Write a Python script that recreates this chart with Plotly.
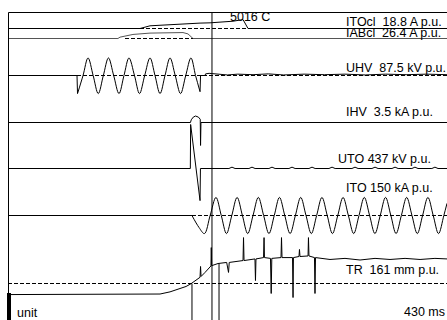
import plotly.graph_objects as go

# ---------------- scale constants ----------------
T_END = 430.0            # ms shown across the record
UNIT_PX = 27.0           # screen height of 1 p.u. (the "unit" bar)
W, H = 447, 320
PX_PER_MS = (W - 8) / T_END
T0 = -8 / PX_PER_MS      # left edge of the window in ms

# ---------------- channel data (time in ms, value in p.u.) ----------------
ITOCL_T = [0, 129.3, 139.1, 155.4, 171.4, 188.1, 197.9, 207.7, 220.4, 230.2, 233.8, 235.1, 430]
ITOCL_V = [0, 0, 0.10, 0.14, 0.16, 0.20, 0.21, 0.23, 0.27, 0.33, 0.05, 0, 0]

IABCL_T = [0, 107.7, 109.7, 122.4, 139.1, 155.4, 171.4, 176.3, 180.0, 181.2, 430]
IABCL_V = [0, 0, 0.05, 0.15, 0.20, 0.22, 0.22, 0.17, 0.03, 0, 0]

UHV_PRE_T = [0, 67.6, 68.1]
UHV_PRE_V = [0, 0, -0.67]
UHV_WAVE_T = [68.1, 73.5, 78.4, 83.4, 88.4, 93.4, 98.4, 103.5, 108.7, 113.6, 118.5,
              123.9, 128.8, 133.9, 139.1, 144.0, 148.9, 153.8, 158.7, 163.8, 169.0,
              174.1, 179.2, 183.7, 188.1]
UHV_WAVE_V = [-0.67, 0, 0.65, 0, -0.67, 0, 0.65, 0, -0.67, 0, 0.65,
              0, -0.67, 0, 0.65, 0, -0.67, 0, 0.65, 0, -0.67,
              0, 0.65, 0, -0.60]
UHV_POST_T = [188.1, 188.6, 193.0, 193.5, 197.0, 205, 215, 225, 240, 255, 270, 290,
              310, 330, 350, 370, 390, 410, 430]
UHV_POST_V = [-0.60, 0, 0, 0.06, 0.08, 0.05, 0.02, 0.05, 0.03, 0.06, 0.02, 0.05,
              0.03, 0.05, 0.02, 0.05, 0.03, 0.05, 0.03]

IHV_T = [0, 178.7, 179.5, 181.5, 183.7, 186.5, 188.3, 188.6, 189.0, 430]
IHV_V = [0, 0, 0.10, 0.20, 0.24, 0.20, 0.12, -0.85, 0, 0]

UTO_T = [0, 178.6, 178.9, 188.1, 188.5, 216.4, 219.4, 222.4, 236.0, 239.0, 242.0,
         255.6, 258.6, 261.6, 275.2, 278.2, 281.2, 294.8, 297.8, 300.8, 314.4,
         317.4, 320.4, 336.9, 339.9, 342.9, 356.5, 359.5, 362.5, 376.1, 379.1,
         382.1, 395.6, 398.6, 401.6, 415.2, 418.2, 421.2, 430]
UTO_V = [0, 0, 1.63, -1.19, 0, 0, 0.05, 0, 0, 0.05, 0,
         0, 0.05, 0, 0, 0.05, 0, 0, 0.05, 0, 0,
         0.05, 0, 0, 0.05, 0, 0, 0.05, 0, 0, 0.05,
         0, 0, 0.05, 0, 0, 0.05, 0, 0]

ITO_PRE_T = [0, 180.2]
ITO_PRE_V = [0, 0]
ITO_WAVE_T = [180.2, 187.2, 192.4, 198.0, 203.7, 208.9, 214.0, 219.2, 224.4, 229.6,
              234.8, 240.0, 245.2, 250.4, 255.6, 260.8, 265.9, 271.1, 276.3, 281.5,
              286.7, 291.9, 297.1, 302.3, 307.5, 312.7, 317.8, 323.0, 328.2, 333.4,
              338.6, 343.8, 349.0, 354.2, 359.4, 364.6, 369.8, 375.0, 380.1, 385.3,
              390.5, 395.7, 400.9, 406.1, 411.3, 416.5, 421.7, 426.9, 430.0]
ITO_WAVE_V = [0, -0.45, -0.67, 0, 0.67, 0, -0.67, 0, 0.67, 0,
              -0.67, 0, 0.67, 0, -0.67, 0, 0.67, 0, -0.67, 0,
              0.67, 0, -0.67, 0, 0.67, 0, -0.67, 0, 0.67, 0,
              -0.67, 0, 0.67, 0, -0.67, 0, 0.67, 0, -0.67, 0,
              0.67, 0, -0.67, 0, 0.67, 0, -0.67, 0, 0.45]

TR_T = [0, 148.9, 158.7, 168.5, 174.4, 179.2, 184.1, 188.1, 188.6, 189.1, 193.0,
        196.9, 198.8, 199.1, 199.5, 205.7, 214.2, 216.0, 216.7, 230.2, 230.7,
        231.2, 241.9, 242.4, 242.9, 250.3, 250.8, 251.2, 257.1, 257.8, 258.4,
        267.4, 267.9, 268.4, 278.7, 279.2, 279.6, 285.0, 285.5, 286.0, 293.9,
        294.3, 294.8, 300.2, 300.7, 301.2, 315.4, 330.1, 344.8, 359.5, 374.2,
        388.9, 403.6, 418.2, 430]
TR_V = [-0.41, -0.39, -0.31, -0.20, -0.11, -0.01, 0.11, 0.23, 0.63, 0.26, 0.41,
        0.59, 0.65, 1.33, 0.66, 0.74, 0.78, 0.41, 0.78, 0.85, 1.70,
        0.85, 0.91, 0.11, 0.91, 0.96, 1.70, 0.96, 0.93, -0.37, 0.93,
        0.96, 1.70, 0.96, 0.96, -0.52, 0.96, 1.00, 1.26, 1.00, 1.02,
        1.70, 1.02, 0.96, -0.37, 0.96, 0.89, 0.93, 0.87, 0.93, 0.89,
        0.93, 0.89, 0.93, 0.91]

# labels
LABELS = ["ITOcl\u00a0 18.8 A p.u.", "IABcl\u00a0 26.4 A p.u.", "UHV\u00a0 87.5 kV p.u.",
          "IHV\u00a0 3.5 kA p.u.", "UTO 437 kV p.u.", "ITO 150 kA p.u.", "TR\u00a0 161 mm p.u."]
CURSOR_T = 199.8
MARK_T = [180.2, 206.7]
CHARGE_TEXT = "5016 C"
TIME_TEXT = "430 ms"
UNIT_TEXT = "unit"

# ---------------- layout positions (screen px from top) ----------------
BASE = {"ITOcl": 28.5, "IABcl": 38.5, "UHV": 75.5, "IHV": 122.5, "UTO": 168.5,
        "ITO": 215.5, "TR": 283.5}
LABEL_POS = [(345, 22), (345, 33), (345, 68), (345, 112), (337, 159), (345, 188), (345, 270)]


def tx(px):
    return T0 + px / PX_PER_MS


def ys(base, vals):
    return [BASE[base] - v * UNIT_PX for v in vals]


fig = go.Figure()
BLACK = "#000000"


def add(t, v, base, color=BLACK, width=1, shape="linear"):
    fig.add_trace(go.Scatter(x=t, y=ys(base, v), mode="lines",
                             line=dict(color=color, width=width, shape=shape),
                             hoverinfo="skip", showlegend=False))


def hline(t0, t1, y, dash=None, color=BLACK, width=1):
    fig.add_shape(type="line", xref="x", yref="y", x0=t0, x1=t1, y0=y, y1=y,
                  line=dict(color=color, width=width, dash=dash or "solid"))


def vline(t, y0, y1, color=BLACK, width=1):
    fig.add_shape(type="line", xref="x", yref="y", x0=t, x1=t, y0=y0, y1=y1,
                  line=dict(color=color, width=width))

DASH = "4px,2px"
# dashed zero lines
hline(ITOCL_T[1], ITOCL_T[-2], BASE["ITOcl"], DASH)
hline(tx(125), IABCL_T[-2], BASE["IABcl"], DASH)
hline(UHV_PRE_T[1], T_END, BASE["UHV"], DASH)
hline(ITO_PRE_T[-1], T_END, BASE["ITO"], DASH)
hline(0, T_END, BASE["TR"], DASH)

# frame
hline(tx(8.5), T_END, 12.5)
vline(tx(8.5), 12.5, H)

# traces
add(ITOCL_T, ITOCL_V, "ITOcl")
add(IABCL_T, IABCL_V, "IABcl", color="#555555")
add(UHV_PRE_T, UHV_PRE_V, "UHV")
add(UHV_WAVE_T, UHV_WAVE_V, "UHV", shape="spline")
add(UHV_POST_T, UHV_POST_V, "UHV")
add(IHV_T, IHV_V, "IHV")
add(UTO_T, UTO_V, "UTO")
add(ITO_PRE_T, ITO_PRE_V, "ITO")
add(ITO_WAVE_T, ITO_WAVE_V, "ITO", shape="spline")
add(TR_T, TR_V, "TR")

# cursors
vline(CURSOR_T, 12.5, H)
for mt in MARK_T:
    idx = min(range(len(TR_T)), key=lambda i: abs(TR_T[i] - mt))
    vline(mt, BASE["TR"] - TR_V[idx] * UNIT_PX, H)

# unit bar (1 p.u. tall)
vline(tx(9), H - UNIT_PX, H, width=4)

FONT = dict(family="Liberation Sans, Arial, sans-serif", size=12.5, color=BLACK)


def text(px, py, s, anchor="left"):
    fig.add_annotation(x=tx(px), y=py, xref="x", yref="y", text=s, showarrow=False,
                       xanchor=anchor, yanchor="middle", font=FONT, borderpad=0)

for (px, py), s in zip(LABEL_POS, LABELS):
    text(px, py, s)
text(229, 17, CHARGE_TEXT)
text(446, 312, TIME_TEXT, anchor="right")
text(16, 313, UNIT_TEXT)

fig.update_layout(width=W, height=H, margin=dict(l=0, r=0, t=0, b=0),
                  paper_bgcolor="white", plot_bgcolor="white", showlegend=False)
fig.update_xaxes(range=[T0, T_END], visible=False, fixedrange=True)
fig.update_yaxes(range=[H, 0], visible=False, fixedrange=True)

fig.write_html("out.html", config={"displayModeBar": False},
               post_script="document.body.style.margin='0';document.body.style.overflow='hidden';")
